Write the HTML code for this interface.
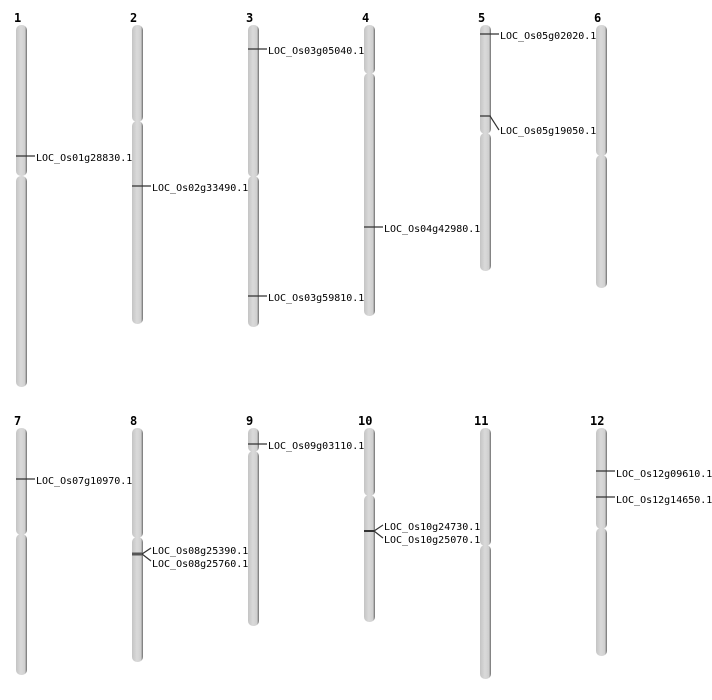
<!DOCTYPE html>
<html><head><meta charset="utf-8"><style>body{margin:0;background:#fff}svg{display:block}</style></head><body>
<svg width="712" height="700" xmlns="http://www.w3.org/2000/svg">
<defs><linearGradient id="g" x1="0" x2="1" y1="0" y2="0">
<stop offset="0" stop-color="#c4c4c4"/><stop offset="0.45" stop-color="#dadada"/><stop offset="0.8" stop-color="#cfcfcf"/><stop offset="0.92" stop-color="#9a9a9a"/><stop offset="1" stop-color="#666"/></linearGradient></defs>
<g font-family="'DejaVu Sans Mono','Liberation Mono',monospace" font-size="12" font-weight="bold" fill="#000">
<text x="14" y="22">1</text><text x="130" y="22">2</text><text x="246" y="22">3</text><text x="362" y="22">4</text><text x="478" y="22">5</text><text x="594" y="22">6</text>
<text x="14" y="425">7</text><text x="130" y="425">8</text><text x="246" y="425">9</text><text x="358" y="425">10</text><text x="474" y="425">11</text><text x="590" y="425">12</text>
</g>
<g fill="url(#g)">
<rect x="16" y="25" width="11" height="151" rx="5"/><rect x="16" y="176" width="11" height="211" rx="5"/>
<rect x="132" y="25" width="11" height="97" rx="5"/><rect x="132" y="121" width="11" height="203" rx="5"/>
<rect x="248" y="25" width="11" height="152" rx="5"/><rect x="248" y="176" width="11" height="151" rx="5"/>
<rect x="364" y="25" width="11" height="49" rx="5"/><rect x="364" y="73" width="11" height="243" rx="5"/>
<rect x="480" y="25" width="11" height="109" rx="5"/><rect x="480" y="133" width="11" height="138" rx="5"/>
<rect x="596" y="25" width="11" height="131" rx="5"/><rect x="596" y="155" width="11" height="133" rx="5"/>
<rect x="16" y="428" width="11" height="107" rx="5"/><rect x="16" y="534" width="11" height="141" rx="5"/>
<rect x="132" y="428" width="11" height="110" rx="5"/><rect x="132" y="537" width="11" height="125" rx="5"/>
<rect x="248" y="428" width="11" height="24" rx="5"/><rect x="248" y="451" width="11" height="175" rx="5"/>
<rect x="364" y="428" width="11" height="68" rx="5"/><rect x="364" y="495" width="11" height="127" rx="5"/>
<rect x="480" y="428" width="11" height="118" rx="5"/><rect x="480" y="545" width="11" height="134" rx="5"/>
<rect x="596" y="428" width="11" height="101" rx="5"/><rect x="596" y="528" width="11" height="128" rx="5"/>
</g>
<g stroke="#333" stroke-width="1.2" fill="none">
<path d="M16 156H35"/><path d="M132 186H151"/><path d="M248 49H267"/><path d="M248 296H267"/><path d="M364 227H383"/>
<path d="M480 34H499"/><path d="M480 116H490L499 130"/>
<path d="M16 479H35"/><path d="M132 554H142L151 548M142 554L151 561"/><path d="M132 554H142" stroke-width="3" stroke="#555"/>
<path d="M248 444H267"/><path d="M364 531H374L383 525M374 531L383 538"/><path d="M364 531H374" stroke-width="2"/>
<path d="M596 471H615"/><path d="M596 497H615"/>
</g>
<g font-family="'DejaVu Sans Mono','Liberation Mono',monospace" font-size="10" fill="#000">
<text x="36" y="161">LOC_Os01g28830.1</text>
<text x="152" y="191">LOC_Os02g33490.1</text>
<text x="268" y="54">LOC_Os03g05040.1</text>
<text x="268" y="301">LOC_Os03g59810.1</text>
<text x="384" y="232">LOC_Os04g42980.1</text>
<text x="500" y="39">LOC_Os05g02020.1</text>
<text x="500" y="134">LOC_Os05g19050.1</text>
<text x="36" y="484">LOC_Os07g10970.1</text>
<text x="152" y="554">LOC_Os08g25390.1</text>
<text x="152" y="567">LOC_Os08g25760.1</text>
<text x="268" y="449">LOC_Os09g03110.1</text>
<text x="384" y="530">LOC_Os10g24730.1</text>
<text x="384" y="543">LOC_Os10g25070.1</text>
<text x="616" y="477">LOC_Os12g09610.1</text>
<text x="616" y="503">LOC_Os12g14650.1</text>
</g>
</svg>
</body></html>
